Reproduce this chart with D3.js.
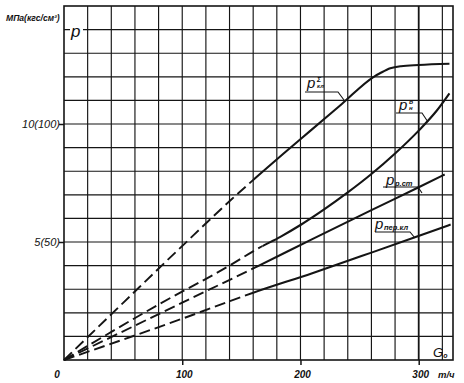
<!DOCTYPE html>
<html>
<head>
<meta charset="utf-8">
<script src="https://cdn.jsdelivr.net/npm/d3@7"></script>
<style>
  html, body { margin: 0; padding: 0; background: #fff; }
  svg { display: block; }
  text { font-family: "Liberation Sans", "DejaVu Sans", sans-serif; font-style: italic; fill: #111; }
</style>
</head>
<body>
<svg id="chart" width="464" height="383"></svg>
<script>
// ---- data (G0, t/h  vs  p, MPa) ----
const xTicks = [0, 100, 200, 300];
const xTickLabels = ["0", "100", "200", "300"];
const yTicks = [5, 10];
const yTickLabels = ["5(50)", "10(100)"];

const pKlG = [0, 50, 101, 142, 165, 185, 208, 235, 262, 268, 276, 285, 300, 326];
const pKlP = [0, 2.42, 4.88, 6.82, 7.85, 8.72, 9.7, 10.85, 12.0, 12.17, 12.36, 12.45, 12.5, 12.55];

const pNG = [0, 80, 140, 165, 183, 200, 220, 240, 260, 280, 300, 315, 326];
const pNP = [0, 2.35, 4.0, 4.75, 5.22, 5.72, 6.38, 7.1, 7.88, 8.75, 9.72, 10.55, 11.3];

const pStG = [0, 100, 160, 210, 260, 300, 322];
const pStP = [0, 2.43, 3.88, 5.12, 6.35, 7.32, 7.86];

const pPerG = [0, 100, 160, 210, 260, 298, 327];
const pPerP = [0, 1.75, 2.85, 3.68, 4.55, 5.22, 5.74];

// G value where each curve turns from dashed (extrapolated) to solid
const solidFrom = [160, 168, 165, 160];

// ---- layout ----
const svg = d3.select("#chart");
const x = d3.scaleLinear().domain([0, 329]).range([64, 453]);
const y = d3.scaleLinear().domain([0, 15]).range([360, 6]);
const ink = "#151515";

// grid
const g = svg.append("g");
g.selectAll(".vg").data(d3.range(20, 329, 20)).join("line")
  .attr("x1", d => x(d)).attr("x2", d => x(d))
  .attr("y1", y(0)).attr("y2", y(15))
  .attr("stroke", ink).attr("stroke-width", d => d === 300 ? 1.8 : 1.15);
g.selectAll(".hg").data(d3.range(1, 15, 1)).join("line")
  .attr("x1", x(0)).attr("x2", x(329))
  .attr("y1", d => y(d)).attr("y2", d => y(d))
  .attr("stroke", ink).attr("stroke-width", 1.15);

// frame
g.append("rect").attr("x", x(0)).attr("y", y(15))
  .attr("width", x(329) - x(0)).attr("height", y(0) - y(15))
  .attr("fill", "none").attr("stroke", ink).attr("stroke-width", 1.6);

// axes ticks
const xAxis = d3.axisBottom(x).tickValues(xTicks.slice(1)).tickSize(5).tickFormat("");
const xa = svg.append("g").attr("transform", `translate(0,${y(0)})`).call(xAxis);
xa.select(".domain").remove();
xa.selectAll("line").attr("stroke", ink).attr("stroke-width", 1.5);
const yAxis = d3.axisLeft(y).tickValues(yTicks).tickSize(5).tickFormat("");
const ya = svg.append("g").attr("transform", `translate(${x(0)},0)`).call(yAxis);
ya.select(".domain").remove();
ya.selectAll("line").attr("stroke", ink).attr("stroke-width", 1.5);

// tick labels
svg.selectAll(".xl").data(xTicks).join("text")
  .attr("x", (d, i) => i === 0 ? x(d) - 7 : x(d) + 2)
  .attr("y", 378).attr("text-anchor", "middle")
  .attr("font-size", 10).attr("font-weight", "bold")
  .text((d, i) => xTickLabels[i]);
svg.selectAll(".yl").data(yTicks).join("text")
  .attr("x", 60).attr("y", d => y(d) + 4).attr("text-anchor", "end")
  .attr("font-size", 11)
  .text((d, i) => yTickLabels[i]);

// unit labels
svg.append("text").attr("x", 438).attr("y", 378).attr("font-size", 9.5).attr("font-weight", "bold").text("т/ч");
svg.append("text").attr("x", 6).attr("y", 21).attr("font-size", 8.6).attr("font-weight", "bold").text("МПа(кгс/см²)");
svg.append("rect").attr("x", 70).attr("y", 23).attr("width", 13).attr("height", 16).attr("fill", "#fff");
svg.append("text").attr("x", 71).attr("y", 37).attr("font-size", 17).text("p");
const gt = svg.append("text").attr("x", 433).attr("y", 357).attr("font-size", 13);
gt.append("tspan").text("G");
gt.append("tspan").attr("font-size", 7).attr("dy", 1).attr("font-weight", "bold").text("о");

// curves
const series = [[pKlG, pKlP], [pNG, pNP], [pStG, pStP], [pPerG, pPerP]];
const line = d3.line().x(d => x(d[0])).y(d => y(d[1])).curve(d3.curveMonotoneX);
const defs = svg.append("defs");
series.forEach((s, i) => {
  const pts = s[0].map((v, k) => [v, s[1][k]]);
  const xs = x(solidFrom[i]);
  defs.append("clipPath").attr("id", "cd" + i).append("rect")
    .attr("x", 0).attr("y", 0).attr("width", xs).attr("height", 383);
  defs.append("clipPath").attr("id", "cs" + i).append("rect")
    .attr("x", xs).attr("y", 0).attr("width", 464 - xs).attr("height", 383);
  svg.append("path").attr("d", line(pts)).attr("fill", "none")
    .attr("stroke", ink).attr("stroke-width", 1.9)
    .attr("stroke-dasharray", "11,5").attr("clip-path", `url(#cd${i})`);
  svg.append("path").attr("d", line(pts)).attr("fill", "none")
    .attr("stroke", ink).attr("stroke-width", 2.1)
    .attr("clip-path", `url(#cs${i})`);
});

// curve labels with leader lines
function label(px, py, sup, sub, ux1, ux2, uy, lx, ly) {
  const t = svg.append("text").attr("x", px).attr("y", py).attr("font-size", 15);
  t.append("tspan").text("p");
  if (sup) {
    svg.append("text").attr("x", px + 10).attr("y", py - 6).attr("font-size", 7).attr("font-weight", "bold").text(sup);
    svg.append("text").attr("x", px + 10).attr("y", py).attr("font-size", 6).attr("font-weight", "bold").text(sub);
  } else {
    svg.append("text").attr("x", px + 9).attr("y", py + 1).attr("font-size", 7.5).attr("font-weight", "bold").text(sub);
  }
  svg.append("polyline")
    .attr("points", `${ux1},${uy} ${ux2},${uy} ${lx},${ly}`)
    .attr("fill", "none").attr("stroke", ink).attr("stroke-width", 1.1);
}
label(307, 88, "Σ", "кл", 305, 338, 92, 344, 100);
label(399, 110, "в", "н", 396, 422, 113, 428, 122);
label(386, 185, null, "р.ст", 383, 418, 187, 422, 193);
label(375, 229, null, "пер.кл", 375, 410, 232, 415, 238);
</script>
</body>
</html>
